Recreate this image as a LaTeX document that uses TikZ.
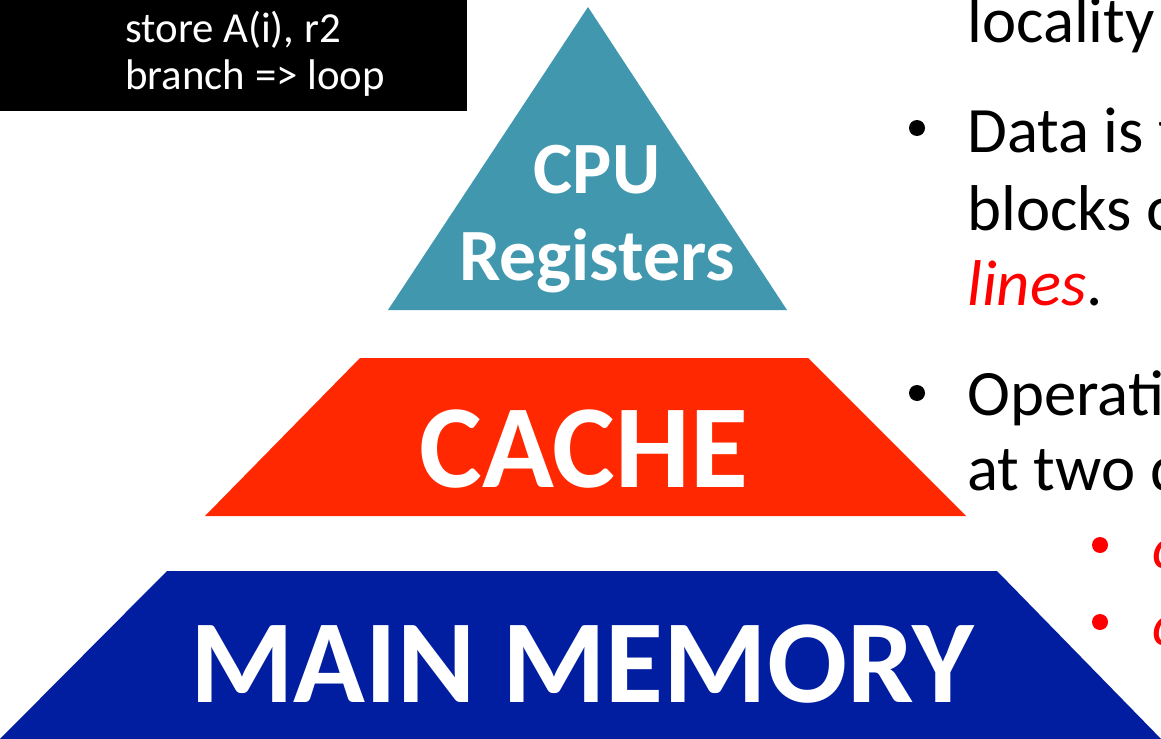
\documentclass[tikz,border=0pt]{standalone}
\usepackage{fontspec}
\setmainfont{Carlito}
\definecolor{regteal}{RGB}{64,151,174}
\definecolor{cachered}{RGB}{255,40,0}
\definecolor{memblue}{RGB}{1,30,160}
\definecolor{hotred}{RGB}{255,0,0}

\begin{document}
\begin{tikzpicture}[x=1bp,y=-1bp,
	level/.style={text=white,inner sep=0pt,anchor=base},
	body/.style={anchor=base west,inner sep=0pt,font=\fontsize{65}{78}\selectfont},
	code/.style={anchor=base west,inner sep=0pt,text=white,font=\fontsize{43}{47}\selectfont}]
	\useasboundingbox (0,0) rectangle (1161,739);
	\clip (0,0) rectangle (1161,739);
	% code box
	\fill[black] (0,0) rectangle (467,111);
	\node[code] (store) at (125,43) {store A(i), r2};
	\node[code] (branch) at (125,90) {branch => loop};
	% pyramid
	\fill[regteal] (588,7) -- (787,310) -- (388,310) -- cycle;
	\fill[cachered] (360,358) -- (808,358) -- (966,516) -- (205,516) -- cycle;
	\fill[memblue] (167,571) -- (997,571) -- (1165,743) -- (-4,743) -- cycle;
	\node[level,font=\bfseries\fontsize{74}{86}\selectfont] (cpu) at (597,193) {CPU};
	\node[level,font=\bfseries\fontsize{74}{86}\selectfont] (regs) at (597,280) {Registers};
	\node[level,font=\bfseries\fontsize{119}{140}\selectfont] (cache) at (584,487) {CACHE};
	\node[level,font=\bfseries\fontsize{119}{140}\selectfont] (mem) at (582,702) {MAIN MEMORY};
	% text on the right
	\node[body] (loc) at (967,43) {locality};
	\fill (917,128) circle [radius=8];
	\node[body] (data) at (967,152) {Data is t};
	\node[body] (blocks) at (967,230) {blocks o};
	\node[body] (lines) at (967,305) {\textcolor{hotred}{\itshape lines}.};
	\fill (917,393) circle [radius=8];
	\node[body] (oper) at (967,415) {Operati};
	\node[body] (two) at (967,490) {at two d};
	\fill[hotred] (1100,545) circle [radius=8];
	\fill[hotred] (1100,622) circle [radius=8];
	\node[body,text=hotred,font=\itshape\fontsize{60}{72}\selectfont] (hit) at (1152,568) {c};
	\node[body,text=hotred,font=\itshape\fontsize{60}{72}\selectfont] (miss) at (1152,645) {c};
\end{tikzpicture}
\end{document}
